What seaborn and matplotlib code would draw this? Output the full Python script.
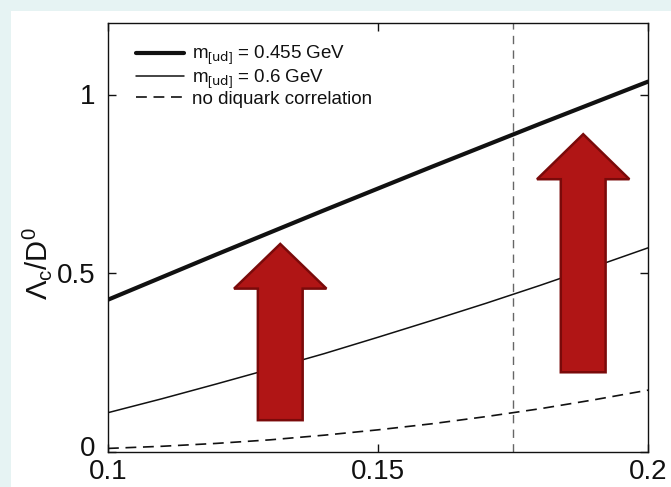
import numpy as np
import pandas as pd
import matplotlib
matplotlib.use("Agg")
import matplotlib.pyplot as plt
import matplotlib.transforms as mtransforms
from matplotlib.patches import Polygon, Rectangle
import seaborn as sns

# ---- data ----
x_vals = [0.10, 0.11, 0.12, 0.13, 0.14, 0.15, 0.16, 0.17, 0.18, 0.19, 0.20]
thick_455 = [0.426, 0.489, 0.552, 0.614, 0.676, 0.737, 0.798, 0.858, 0.918, 0.977, 1.036]
thin_600 = [0.110, 0.149, 0.190, 0.232, 0.275, 0.321, 0.368, 0.416, 0.466, 0.518, 0.571]
no_diquark = [0.010, 0.016, 0.024, 0.034, 0.047, 0.062, 0.079, 0.099, 0.121, 0.146, 0.173]
series_labels = [r"m$_{[\mathrm{ud}]}$ = 0.455 GeV", r"m$_{[\mathrm{ud}]}$ = 0.6 GeV", "no diquark correlation"]
vline_x = 0.175
x_ticks = [0.1, 0.15, 0.2]
x_ticklabels = ["0.1", "0.15", "0.2"]
y_ticks = [0, 0.5, 1]
y_ticklabels = ["0", "0.5", "1"]

# arrows: (center x, shaft width, head width, bottom y, head base y, tip y)
arrows = [
    (0.1319, 0.0083, 0.0171, 0.089, 0.457, 0.582),
    (0.1880, 0.0083, 0.0171, 0.223, 0.763, 0.889),
]

sns.set_theme(style="ticks")
plt.rcParams["font.family"] = ["Liberation Sans", "DejaVu Sans"]
plt.rcParams["mathtext.default"] = "regular"
plt.rcParams["axes.linewidth"] = 1.0

fig = plt.figure(figsize=(6.71, 4.87), dpi=100)
fig.patch.set_facecolor("white")
fig.patches.append(Rectangle((0, 0), 1, 1, transform=fig.transFigure,
                             facecolor="#e6f3f3", edgecolor="none", zorder=-10))
fig.patches.append(Rectangle((11 / 671, 0), 1, 1 - 11 / 487, transform=fig.transFigure,
                             facecolor="white", edgecolor="none", zorder=-9))

ax = fig.add_axes([108 / 671, 1 - 452 / 487, 540 / 671, 429 / 487])
ax.set_facecolor("white")

df = pd.DataFrame({"x": x_vals, "a": thick_455, "b": thin_600, "c": no_diquark})
sns.lineplot(data=df, x="x", y="a", ax=ax, color="#111111", lw=3.0, label=series_labels[0])
sns.lineplot(data=df, x="x", y="b", ax=ax, color="#111111", lw=1.1, label=series_labels[1])
sns.lineplot(data=df, x="x", y="c", ax=ax, color="#111111", lw=1.2, ls=(0, (6.5, 4)),
             label=series_labels[2])

ax.axvline(vline_x, color="#666666", lw=1.0, ls=(0, (6, 4.5)), zorder=1)

for cx, sw, hw, y0, yb, yt in arrows:
    pts = [(cx - sw / 2, y0), (cx + sw / 2, y0), (cx + sw / 2, yb), (cx + hw / 2, yb),
           (cx, yt), (cx - hw / 2, yb), (cx - sw / 2, yb)]
    ax.add_patch(Polygon(pts, closed=True, facecolor="#b01515", edgecolor="#7a0a0a",
                         lw=1.8, zorder=5))

ax.set_xlim(0.1, 0.2)
ax.set_ylim(0, 1.2)
ax.set_xticks(x_ticks)
ax.set_xticklabels(x_ticklabels)
ax.set_yticks(y_ticks)
ax.set_yticklabels(y_ticklabels)
ax.tick_params(direction="in", length=6, width=1.0, top=True, right=True,
               labelsize=20, colors="#111111")
ax.tick_params(axis="x", pad=5)
ax.tick_params(axis="y", pad=9)
for s in ax.spines.values():
    s.set_color("#111111")

# nudge the "0" y tick label slightly up so it does not collide with "0.1"
zero_lab = ax.get_yticklabels()[0]
zero_lab.set_transform(zero_lab.get_transform() +
                       mtransforms.ScaledTranslation(0, 4 / 72, fig.dpi_scale_trans))

ax.set_xlabel("")
ax.set_ylabel(r"$\Lambda_c$/D$^0$", fontsize=21, color="#111111")
ax.yaxis.set_label_coords(-0.1, 0.44)

leg = ax.legend(loc="upper left", frameon=False, fontsize=13.5, handlelength=2.6,
                handletextpad=0.4, labelspacing=0.0, borderaxespad=0.5,
                bbox_to_anchor=(0.02, 0.99))
for t in leg.get_texts():
    t.set_color("#111111")

fig.savefig("out.png", dpi=100)
